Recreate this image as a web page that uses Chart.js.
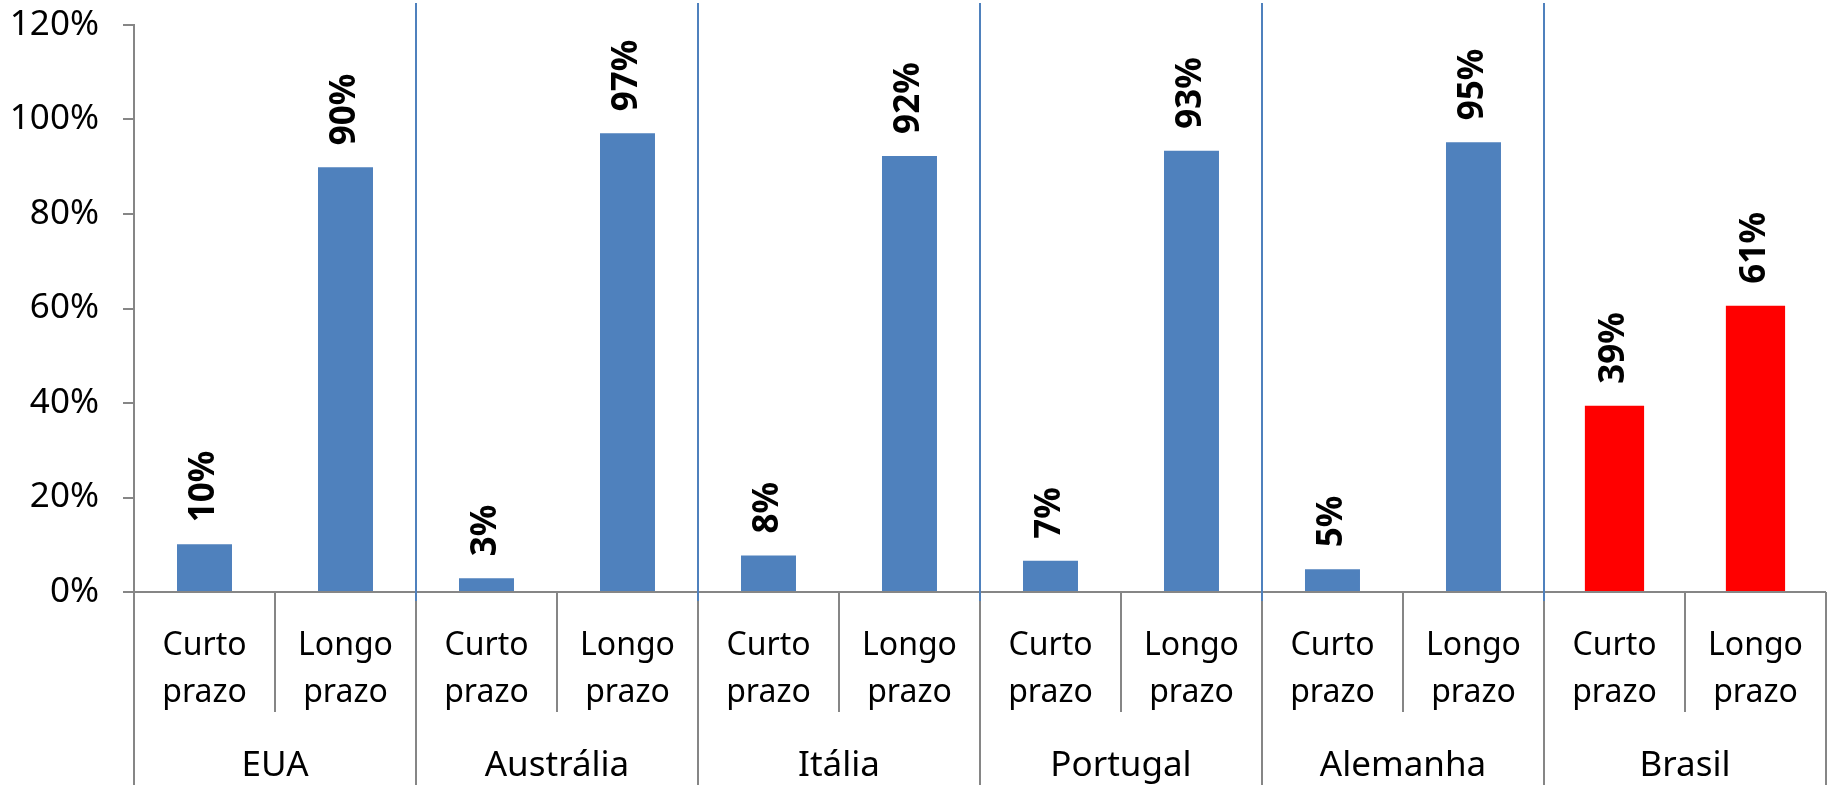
<!DOCTYPE html>
<html>
<head>
<meta charset="utf-8">
<script src="https://cdn.jsdelivr.net/npm/chart.js@4"></script>
<style>
  html, body { margin: 0; padding: 0; background: #fff; }
  #wrap { width: 1834px; height: 785px; }
</style>
</head>
<body>
<div id="wrap"><canvas id="grafico"></canvas></div>
<script>
// Dados
const paises = ['EUA', 'Austrália', 'Itália', 'Portugal', 'Alemanha', 'Brasil'];
const prazos = [['Curto', 'prazo'], ['Longo', 'prazo']];
const curtoPrazo = [10.1, 2.9, 7.7, 6.6, 4.8, 39.4];
const longoPrazo = [89.9, 97.1, 92.3, 93.4, 95.2, 60.6];
const ticksY = [0, 20, 40, 60, 80, 100, 120];
const destaque = 'Brasil'; // país em vermelho

const AZUL = '#4F81BD';
const VERMELHO = '#FF0000';
const CINZA = '#868686';

// Montar rótulos e séries (uma barra por prazo, agrupadas por país)
const rotulos = [];
const serieAzul = [];
const serieVermelha = [];
paises.forEach((p, i) => {
    rotulos.push(prazos[0], prazos[1]);
    const valores = [curtoPrazo[i], longoPrazo[i]];
    valores.forEach(v => {
        serieAzul.push(p === destaque ? null : v);
        serieVermelha.push(p === destaque ? v : null);
    });
});

Chart.defaults.font.family = '"Noto Sans", sans-serif';
Chart.defaults.font.size = 32;
Chart.defaults.color = '#000';

// Linhas separadoras (azuis no gráfico, cinzas na área dos rótulos)
const separadores = {
    id: 'separadores',
    afterDraw(chart) {
        const { ctx, scales: { x, x2 } } = chart;
        const n = rotulos.length;
        const fronteira = i => i === 0 ? x.left : (i === n ? x.right : (x.getPixelForValue(i - 1) + x.getPixelForValue(i)) / 2);
        ctx.save();
        ctx.lineWidth = 2;
        ctx.strokeStyle = CINZA;
        for (let i = 0; i <= n; i++) {
            const px = Math.round(fronteira(i));
            const fim = i % 2 === 0 ? x2.bottom : x.bottom;
            ctx.beginPath();
            ctx.moveTo(px, x.top);
            ctx.lineTo(px, fim);
            ctx.stroke();
        }
        ctx.strokeStyle = AZUL;
        for (let i = 2; i < n; i += 2) {
            const px = Math.round(fronteira(i));
            ctx.beginPath();
            ctx.moveTo(px, 3);
            ctx.lineTo(px, x.top + 9);
            ctx.stroke();
        }
        ctx.restore();
    }
};

// Rótulos de valor na vertical acima das barras
const rotulosValor = {
    id: 'rotulosValor',
    afterDatasetsDraw(chart) {
        const { ctx } = chart;
        ctx.save();
        ctx.font = 'bold 35px "Noto Sans", sans-serif';
        ctx.fillStyle = '#000';
        ctx.textAlign = 'left';
        ctx.textBaseline = 'middle';
        chart.data.datasets.forEach((ds, d) => {
            chart.getDatasetMeta(d).data.forEach((barra, i) => {
                const v = ds.data[i];
                if (v === null) return;
                ctx.save();
                ctx.translate(barra.x, barra.y - 22);
                ctx.rotate(-Math.PI / 2);
                ctx.fillText(Math.round(v) + '%', 0, 0);
                ctx.restore();
            });
        });
        ctx.restore();
    }
};

new Chart(document.getElementById('grafico'), {
    type: 'bar',
    data: {
        labels: rotulos,
        datasets: [
            { data: serieAzul, backgroundColor: AZUL, barPercentage: 0.39, categoryPercentage: 1, grouped: false },
            { data: serieVermelha, backgroundColor: VERMELHO, barPercentage: 0.42, categoryPercentage: 1, grouped: false }
        ]
    },
    options: {
        responsive: true,
        maintainAspectRatio: false,
        animation: false,
        layout: { padding: { top: 25, right: 1, left: 0, bottom: 0 } },
        plugins: { legend: { display: false }, tooltip: { enabled: false } },
        scales: {
            y: {
                min: 0,
                max: 120,
                afterBuildTicks: s => { s.ticks = ticksY.map(v => ({ value: v })); },
                afterFit: s => { s.width = 134; s.paddingTop = 20; s.paddingBottom = 20; },
                ticks: { padding: 24, font: { size: 35 }, callback: v => v + '%' },
                grid: { drawOnChartArea: false, tickLength: 11, color: CINZA, lineWidth: 2 },
                border: { color: CINZA, width: 2 }
            },
            x: {
                offset: true,
                afterFit: s => { s.height = 120; },
                ticks: { padding: 31, maxRotation: 0, autoSkip: false, font: { size: 32, lineHeight: 1.45 } },
                grid: { display: false, drawTicks: false },
                border: { color: CINZA, width: 2 }
            },
            x2: {
                type: 'category',
                labels: paises,
                position: 'bottom',
                offset: true,
                afterFit: s => { s.height = 73; },
                ticks: { padding: 33, maxRotation: 0, autoSkip: false, font: { size: 35 } },
                grid: { display: false, drawTicks: false },
                border: { display: false }
            }
        }
    },
    plugins: [separadores, rotulosValor]
});
</script>
</body>
</html>
